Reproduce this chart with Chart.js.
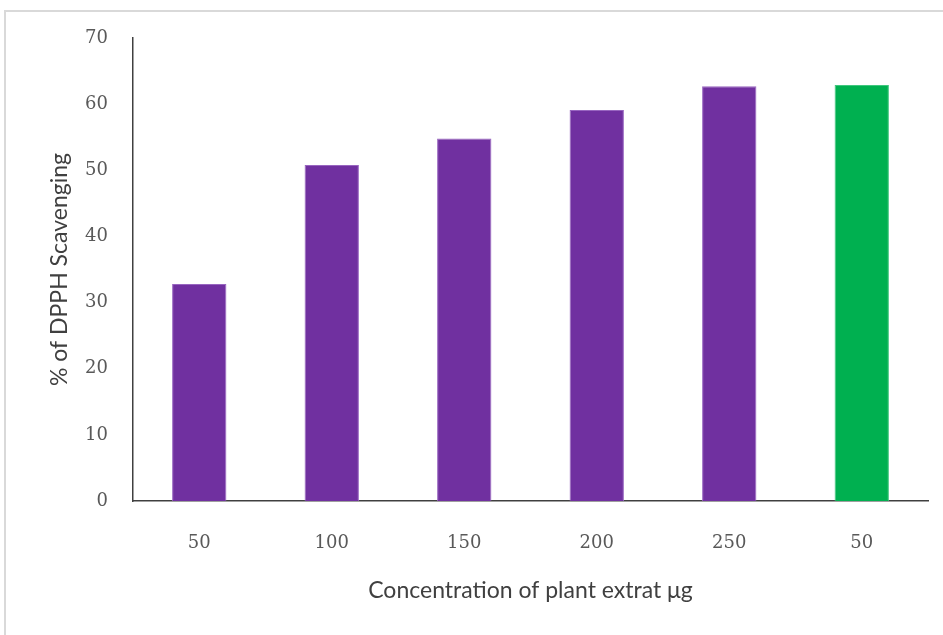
<!DOCTYPE html>
<html>
<head>
<meta charset="utf-8">
<script src="https://cdn.jsdelivr.net/npm/chart.js@4.4.1/dist/chart.umd.min.js"></script>
<style>
  html, body { margin: 0; padding: 0; background: #ffffff; }
  #wrap { position: relative; width: 943px; height: 635px; }
</style>
</head>
<body>
<div id="wrap"><canvas id="chart" width="943" height="635"></canvas></div>
<script>
// Concentration categories and DPPH scavenging percentages
const categories = ['50', '100', '150', '200', '250', '50'];
const scavenging = [32.8, 50.8, 54.8, 59.1, 62.7, 62.9];
const barColors = ['#7030A0', '#7030A0', '#7030A0', '#7030A0', '#7030A0', '#00B050'];
const barEdges = ['#9865c0', '#9865c0', '#9865c0', '#9865c0', '#9865c0', '#3fc77e'];
const yTicks = [0, 10, 20, 30, 40, 50, 60, 70];

// Light outer frame around the chart
const framePlugin = {
  id: 'frame',
  beforeDraw(chart) {
    const ctx = chart.ctx;
    ctx.save();
    ctx.fillStyle = '#ffffff';
    ctx.fillRect(0, 0, chart.width, chart.height);
    ctx.strokeStyle = '#d9d9d9';
    ctx.lineWidth = 2;
    ctx.strokeRect(5, 11, 1200, 1200);
    ctx.restore();
  }
};

new Chart(document.getElementById('chart'), {
  type: 'bar',
  data: {
    labels: categories,
    datasets: [{
      data: scavenging,
      backgroundColor: barColors,
      borderColor: barEdges,
      borderWidth: 1,
      barPercentage: 0.41,
      categoryPercentage: 1.0
    }]
  },
  options: {
    responsive: false,
    animation: false,
    layout: { padding: { top: 38, right: 15, bottom: 0, left: 0 } },
    plugins: { legend: { display: false }, tooltip: { enabled: false } },
    scales: {
      x: {
        grid: { display: false },
        border: { display: true, color: '#404040', width: 1.5 },
        ticks: {
          color: '#595959',
          font: { family: 'DejaVu Serif', size: 18 },
          padding: 24,
          maxRotation: 0
        },
        title: {
          display: true,
          text: 'Concentration of plant extrat μg',
          color: '#404040',
          font: { family: 'Lato', size: 23 },
          padding: { top: 0, bottom: 31 }
        },
        afterFit(s) { s.height = 134; }
      },
      y: {
        min: 0,
        max: 70,
        afterBuildTicks(s) { s.ticks = yTicks.map(v => ({ value: v })); },
        grid: { display: false },
        border: { display: true, color: '#404040', width: 1.5 },
        ticks: {
          color: '#595959',
          font: { family: 'DejaVu Serif', size: 18 },
          padding: 17
        },
        title: {
          display: true,
          text: '% of DPPH Scavenging',
          color: '#404040',
          font: { family: 'Lato', size: 23 },
          padding: { top: 46, bottom: 0 }
        },
        afterFit(s) { s.width = 133; }
      }
    }
  },
  plugins: [framePlugin]
});
</script>
</body>
</html>
